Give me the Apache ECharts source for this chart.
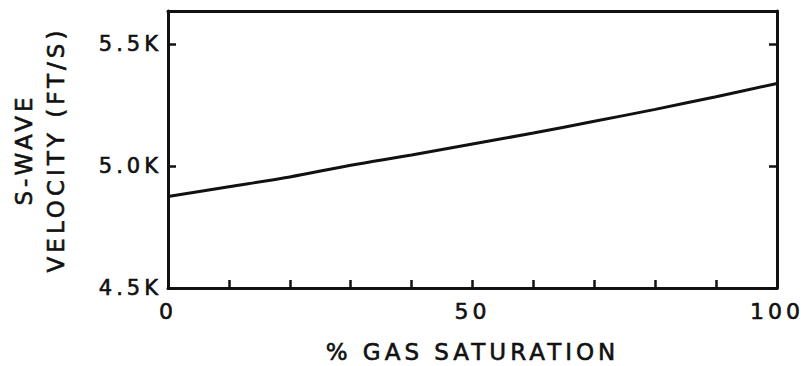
<!DOCTYPE html>
<html>
<head>
<meta charset="utf-8">
<script src="https://cdn.jsdelivr.net/npm/echarts@6/dist/echarts.min.js"></script>
<style>
  html, body { margin: 0; padding: 0; background: #fff; }
  #chart { width: 805px; height: 366px; }
  /* wide, slightly heavy lettering for all chart text */
  #chart text { letter-spacing: 4px; stroke: #111; stroke-width: 0.6px; }
</style>
</head>
<body>
<div id="chart"></div>
<script>
// Shear-wave velocity versus gas saturation
const gasSaturation = [0, 10, 20, 30, 40, 50, 60, 70, 80, 90, 100];
const velocityK = [4.875, 4.915, 4.955, 5.003, 5.045, 5.090, 5.135, 5.183, 5.232, 5.284, 5.338];
const xLabelValues = [0, 50, 100];
const yLabelValues = [4.5, 5.0, 5.5];

const FONT = 'DejaVu Sans';
const INK = '#111';

const chart = echarts.init(document.getElementById('chart'), null, { renderer: 'svg' });

const seriesData = gasSaturation.map((x, i) => [x, velocityK[i]]);

const axisLine = { show: true, onZero: false, lineStyle: { color: INK, width: 3 } };
const innerTick = { show: true, inside: true, length: 8, lineStyle: { color: INK, width: 2.5 } };

chart.setOption({
  backgroundColor: '#fff',
  animation: false,
  grid: { left: 168, right: 28, top: 11, bottom: 78, containLabel: false, outerBoundsMode: 'none' },
  xAxis: [
    {
      type: 'value', min: 0, max: 100, interval: 10,
      position: 'bottom',
      name: '% GAS SATURATION',
      nameLocation: 'middle', nameGap: 52,
      nameTextStyle: { fontFamily: FONT, fontSize: 23, color: INK },
      axisLine: axisLine,
      axisTick: innerTick,
      axisLabel: {
        fontFamily: FONT, fontSize: 22, color: INK, margin: 12,
        formatter: v => xLabelValues.includes(v) ? String(v) : ''
      },
      splitLine: { show: false }
    },
    {
      type: 'value', min: 0, max: 100, position: 'top',
      axisLine: axisLine, axisTick: { show: false }, axisLabel: { show: false }, splitLine: { show: false }
    }
  ],
  yAxis: [
    {
      type: 'value', min: 4.5, max: 5.635, interval: 0.5,
      position: 'left',
      name: 'S-WAVE\nVELOCITY (FT/S)',
      nameLocation: 'middle', nameGap: 96, nameRotate: 90,
      nameTextStyle: { fontFamily: FONT, fontSize: 23, color: INK, lineHeight: 32 },
      axisLine: axisLine,
      axisTick: innerTick,
      axisLabel: {
        fontFamily: FONT, fontSize: 21, color: INK, margin: 6,
        showMaxLabel: false,
        formatter: v => yLabelValues.some(t => Math.abs(t - v) < 1e-6) ? v.toFixed(1) + 'K' : ''
      },
      splitLine: { show: false }
    },
    {
      type: 'value', min: 4.5, max: 5.635, interval: 0.5,
      position: 'right',
      axisLine: axisLine,
      axisTick: innerTick,
      axisLabel: { show: false },
      splitLine: { show: false }
    }
  ],
  series: [
    {
      type: 'line',
      data: seriesData,
      smooth: 0.3,
      showSymbol: false,
      lineStyle: { color: INK, width: 3 }
    }
  ]
});
</script>
</body>
</html>
